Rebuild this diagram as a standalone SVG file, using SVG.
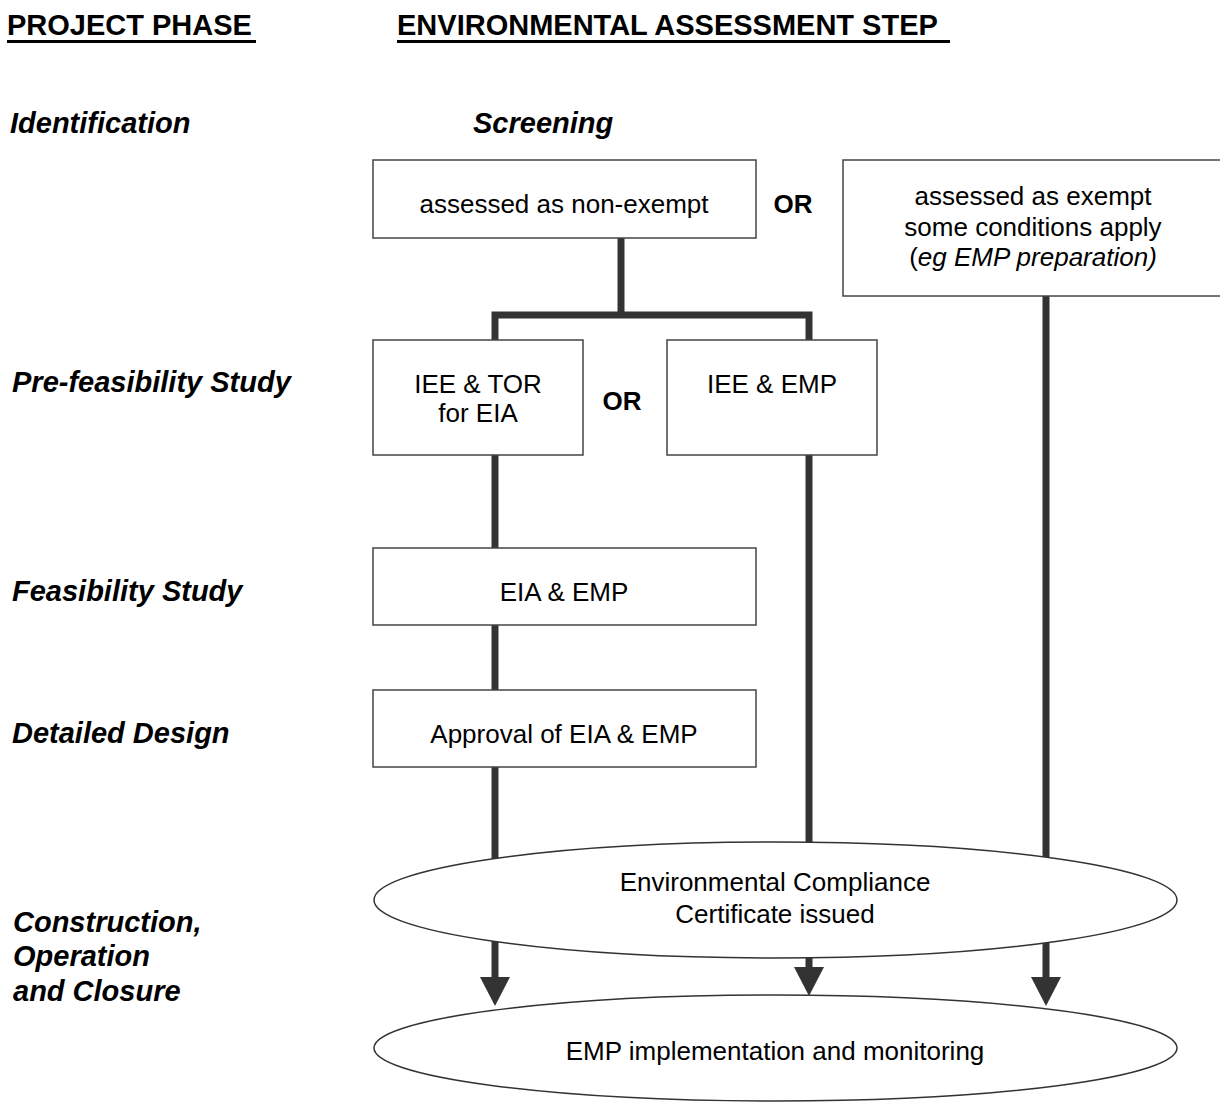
<svg xmlns="http://www.w3.org/2000/svg" width="1220" height="1102" viewBox="0 0 1220 1102">
<style>
  text { font-family: "Liberation Sans", Arial, sans-serif; fill: #000; }
  .hdr { font-size: 29px; font-weight: bold; }
  .lbl { font-size: 29px; font-weight: bold; font-style: italic; }
  .t { font-size: 26px; text-anchor: middle; }
  .or { font-size: 26px; font-weight: bold; text-anchor: middle; }
  .box { fill: #fff; stroke: #444; stroke-width: 1.5; }
  .ell { fill: #fff; stroke: #333; stroke-width: 1.5; }
  .conn { fill: none; stroke: #333; stroke-width: 7; stroke-linejoin: miter; }
  .ul { stroke: #000; stroke-width: 3; }
</style>
<defs>
  <marker id="arr" markerUnits="userSpaceOnUse" markerWidth="30" markerHeight="30" refX="0" refY="15" orient="auto" viewBox="0 0 30 30">
    <path d="M0,0 L29,15 L0,30 Z" fill="#333"/>
  </marker>
</defs>

<g id="headers">
  <text class="hdr" x="7" y="35">PROJECT PHASE</text>
  <line class="ul" x1="7" y1="41.5" x2="256" y2="41.5"/>
  <text class="hdr" x="397" y="35">ENVIRONMENTAL ASSESSMENT STEP</text>
  <line class="ul" x1="397" y1="41.5" x2="950" y2="41.5"/>
</g>

<g id="phase-labels">
  <text class="lbl" x="10" y="133">Identification</text>
  <text class="lbl" x="12" y="392">Pre-feasibility Study</text>
  <text class="lbl" x="12" y="601">Feasibility Study</text>
  <text class="lbl" x="12" y="743">Detailed Design</text>
  <text class="lbl" x="13" y="932">Construction,</text>
  <text class="lbl" x="13" y="966">Operation</text>
  <text class="lbl" x="13" y="1001">and Closure</text>
</g>

<g id="screening-label">
  <text class="lbl" x="473" y="133">Screening</text>
</g>

<g id="node-ecc-impl">
  <ellipse class="ell" cx="775.5" cy="1048" rx="401.5" ry="53"/>
  <text class="t" x="775" y="1060">EMP implementation and monitoring</text>
</g>

<g id="connectors">
  <path class="conn" d="M621,238 V315"/>
  <path class="conn" d="M495,340 V315 H809 V340"/>
  <path class="conn" d="M495,455 V548"/>
  <path class="conn" d="M495,625 V690"/>
  <path class="conn" d="M495,767 V977" marker-end="url(#arr)"/>
  <path class="conn" d="M809,455 V967" marker-end="url(#arr)"/>
  <path class="conn" d="M1046,296 V977" marker-end="url(#arr)"/>
</g>

<g id="node-non-exempt">
  <rect class="box" x="373" y="160" width="383" height="78"/>
  <text class="t" x="564" y="213">assessed as non-exempt</text>
</g>

<g id="or-1">
  <text class="or" x="793" y="213">OR</text>
</g>

<g id="node-exempt">
  <rect class="box" x="843" y="160" width="382" height="136"/>
  <text class="t" x="1033" y="205">assessed as exempt</text>
  <text class="t" x="1033" y="236">some conditions apply</text>
  <text class="t" x="1033" y="266">(<tspan font-style="italic">eg EMP preparation)</tspan></text>
</g>

<g id="node-iee-tor">
  <rect class="box" x="373" y="340" width="210" height="115"/>
  <text class="t" x="478" y="393">IEE &amp; TOR</text>
  <text class="t" x="478" y="422">for EIA</text>
</g>

<g id="or-2">
  <text class="or" x="622" y="410">OR</text>
</g>

<g id="node-iee-emp">
  <rect class="box" x="667" y="340" width="210" height="115"/>
  <text class="t" x="772" y="393">IEE &amp; EMP</text>
</g>

<g id="node-eia-emp">
  <rect class="box" x="373" y="548" width="383" height="77"/>
  <text class="t" x="564" y="601">EIA &amp; EMP</text>
</g>

<g id="node-approval">
  <rect class="box" x="373" y="690" width="383" height="77"/>
  <text class="t" x="564" y="743">Approval of EIA &amp; EMP</text>
</g>

<g id="node-ecc">
  <ellipse class="ell" cx="775.5" cy="900" rx="401.5" ry="58"/>
  <text class="t" x="775" y="891">Environmental Compliance</text>
  <text class="t" x="775" y="923">Certificate issued</text>
</g>
</svg>
